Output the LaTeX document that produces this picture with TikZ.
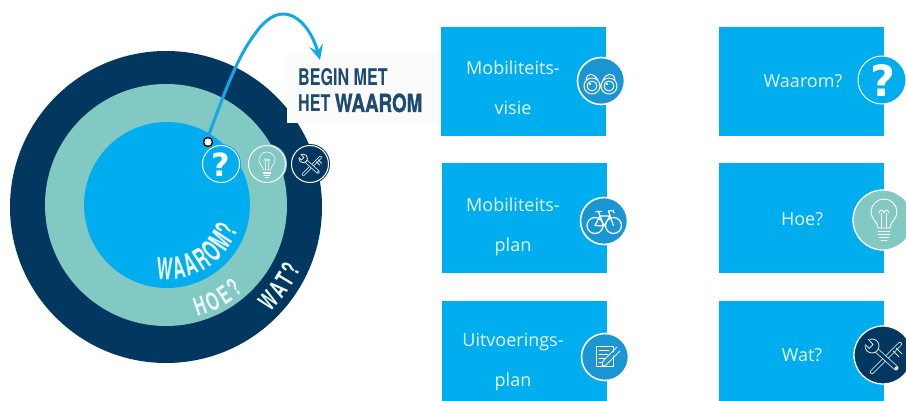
\documentclass[tikz,border=0pt]{standalone}
\usepackage{fontspec}
\setmainfont{Open Sans}
\newfontfamily\condfont[FakeStretch=0.56]{TeX Gyre Heros}
\newfontfamily\condmid[FakeStretch=0.64]{TeX Gyre Heros}
\newfontfamily\headfont[FakeStretch=0.70]{TeX Gyre Heros}
\newfontfamily\headbold[FakeStretch=0.75,FakeBold=1]{TeX Gyre Heros}
\newfontfamily\qfont{DejaVu Sans}
\usetikzlibrary{decorations.text,arrows.meta}
\definecolor{boxblue}{HTML}{00ADEF}
\definecolor{navy}{HTML}{02375F}
\definecolor{teal2}{HTML}{83C9C3}
\definecolor{iconblue}{HTML}{1A96D2}
\definecolor{arrowblue}{HTML}{12A8E8}
\definecolor{soft}{HTML}{EAF7FC}
\definecolor{headnavy}{HTML}{1C4A72}
\tikzset{
  x=1pt,y=-1pt,
  card/.style={fill=boxblue,minimum width=165pt,minimum height=109pt,inner sep=0pt,outer sep=0pt},
  cardtext/.style={text=soft,align=center,inner sep=0pt,font=\fontsize{18}{40}\selectfont},
  disc/.style={circle,fill=#1,draw=white,line width=1.6pt,inner sep=0pt,outer sep=0pt},
  ringed/.style={circle,fill=#1,inner sep=0pt,outer sep=0pt},
  ico/.style={draw=white,line cap=round,line join=round},
  qmark/.style={text=white,inner sep=0pt,font=\qfont\bfseries\fontsize{#1}{#1}\selectfont},
  arctext/.style n args={3}{decorate,decoration={text effects along path,text={#1},
    text effects/.cd,text along path,
    characters={text=soft,font=#2},
    character widths={font=#2,inner xsep=#3}}},
  pics/bulbicon/.style={code={
    \draw[ico,pic actions] (-6,8) .. controls (-6,2) and (-13,-1) .. (-13,-8) .. controls (-13,-15) and (-7,-21) .. (0,-21) .. controls (7,-21) and (13,-15) .. (13,-8) .. controls (13,-1) and (6,2) .. (6,8) -- cycle;
    \draw[ico,pic actions] (-2.5,8) -- (-2.5,-7) (2.5,8) -- (2.5,-7) (-5,-7) .. controls (-4,-11) and (-1,-11) .. (0,-7) .. controls (1,-11) and (4,-11) .. (5,-7);
    \draw[ico,pic actions] (-6,11) -- (6,11) (-6,14) -- (6,14) (-5,17) -- (5,17) (-3,20) -- (3,20);
  }},
  pics/toolsicon/.style={code={
    \draw[draw=white,double=navy,double distance=2.6*\pgfkeysvalueof{/tikz/iconk},line width=.7pt,line cap=round] (-11,17) -- (17,-11);
    \draw[draw=white,double=navy,double distance=3.4*\pgfkeysvalueof{/tikz/iconk},line width=.7pt,line cap=round] (-9,-7) -- (13,13);
    \fill[navy,draw=white,line width=.7pt] (-11,-9) circle (7);
    \fill[navy] (-15,-17) -- (-9,-11) -- (-14,-6) -- (-21,-12) -- cycle;
    \draw[white,line width=.7pt] (-15,-16) -- (-10,-10.5) -- (-14,-6.5) -- (-18,-10.5);
    \draw[white,line width=.7pt] (10,-4) -- (16,2) (13,-7) -- (19,-1);
    \fill[white] (13,13) circle (1.6);
  }},
  iconk/.initial=1
}
\begin{document}
\begin{tikzpicture}
\clip (0,0) rectangle (906,401);
\fill[white] (0,0) rectangle (906,401);

% target rings
\node[ringed=navy,minimum size=312pt] (outer) at (166,207) {};
\node[ringed=teal2,minimum size=242pt] (middle) at (166,205) {};
\node[ringed=boxblue,minimum size=166pt] (inner) at (167,205) {};

% ring labels
\path[y=1pt,arctext={WAAROM?}{\condfont\bfseries\fontsize{30}{30}\selectfont}{1.2pt}]
  ({167+75*cos(-99)},{-205+75*sin(-99)}) arc[start angle=-99,end angle=-5,radius=75pt];
\path[y=1pt,arctext={HOE?}{\condmid\bfseries\fontsize{25}{25}\selectfont}{1.4pt}]
  ({166+116*cos(-75)},{-205+116*sin(-75)}) arc[start angle=-75,end angle=-25,radius=116pt];
\path[y=1pt,arctext={WAT?}{\condmid\bfseries\fontsize{25}{25}\selectfont}{1.3pt}]
  ({166+148*cos(-46)},{-207+148*sin(-46)}) arc[start angle=-46,end angle=-5,radius=148pt];

% heading
\node[fill=black!1.5,minimum width=153pt,minimum height=70pt,inner sep=0pt] (headbg) at (363.5,88) {};
\node[anchor=base west,inner sep=0pt,text=headnavy,font=\headfont\bfseries\fontsize{23}{23}\selectfont] (head1) at (298,86) {BEGIN MET};
\node[anchor=base west,inner sep=0pt,text=headnavy,font=\headfont\bfseries\fontsize{23}{23}\selectfont] (head2) at (298,112) {HET {\headbold\bfseries\fontsize{25}{25}\selectfont WAAROM}};

% small discs
\node[ringed=boxblue,minimum size=40pt] (smallq0) at (221,164) {};
\node[ringed=teal2,minimum size=40pt] (smallb0) at (267,164) {};
\node[ringed=navy,minimum size=40pt] (smallt0) at (310,164) {};
\node[disc=boxblue,minimum size=37pt,line width=1pt] (smallq) at (221,164) {};
\node[disc=teal2,minimum size=37pt,line width=1pt] (smallb) at (267,164) {};
\node[disc=navy,minimum size=37pt,line width=1pt] (smallt) at (310,164) {};
\node[qmark=32] (smallqm) at (221,165) {?};
\pic[scale=.62,line width=.55pt] at (267,165) {bulbicon};
\begin{scope}[iconk=.62]
\pic[scale=.62] at (310,164) {toolsicon};
\end{scope}

% arrow
\node[circle,fill=white,draw=black,line width=1.3pt,minimum size=9pt,inner sep=0pt] (dot) at (208,142) {};
\coordinate (tip) at (320,60);
\draw[arrowblue,line width=3pt,-{Stealth[length=15pt,width=14pt,inset=6pt]}]
  (dot.north) .. controls (222,100) and (235,62) .. (252,38)
  .. controls (262,23) and (272,14) .. (283,14)
  .. controls (300,14) and (313,34) .. (tip);

% cards, left column
\node[card] (c1) at (523.5,81.5) {};
\node[card] (c2) at (524.5,218) {};
\node[card,minimum height=101pt] (c3) at (524.5,351.5) {};
\node[cardtext] (t1) at (513,87.5) {Mobiliteits-\\visie};
\node[cardtext] (t2) at (513,226.5) {Mobiliteits-\\plan};
\node[cardtext] (t3) at (513,362.5) {Uitvoerings-\\plan};

% cards, right column
\node[card] (c4) at (801.5,81.5) {};
\node[card] (c5) at (801.5,218) {};
\node[card,minimum height=101pt] (c6) at (801.5,351.5) {};
\node[cardtext] (t4) at (803,81) {Waarom?};
\node[cardtext] (t5) at (802,219) {Hoe?};
\node[cardtext] (t6) at (802,355) {Wat?};

% left icons
\node[disc=iconblue,minimum size=47pt] (i1) at (601,81) {};
\node[disc=iconblue,minimum size=47pt] (i2) at (604,221) {};
\node[disc=iconblue,minimum size=47pt] (i3) at (605,357) {};

% binoculars
\begin{scope}[shift={(601,81)},ico,line width=1pt]
  \draw (-9,5) circle (8) (-9,5) circle (5) (8,5) circle (8) (8,5) circle (5);
  \fill[white] (-11,3) circle (1.3) (6,3) circle (1.3);
  \draw (-15,-1) .. controls (-14,-9) and (-7,-8) .. (-3,-1);
  \draw (2,-1) .. controls (5,-8) and (13,-9) .. (14,-1);
\end{scope}

% bicycle
\begin{scope}[shift={(604,221)},ico,line width=1.2pt]
  \draw (-9,4.5) circle (8) (9.5,4.5) circle (8);
  \draw (-9,4.5) -- (-4,-5) -- (6,-5) -- (9.5,4.5) (-9,4.5) -- (0,5) -- (6,-5) (0,5) -- (-4,-5);
  \draw (-4,-5) -- (-5.5,-9) (-8,-9.5) -- (-2.5,-9.5);
  \draw (6,-5) -- (4.5,-10) -- (9,-10.5) -- (10,-8);
\end{scope}

% plan
\begin{scope}[shift={(605,357)},ico,line width=.9pt]
  \draw (-9,-11) rectangle (8,9);
  \draw (-6,-7) -- (4,-7) (-6,-3) -- (3,-3) (-6,1) -- (0,1) (-6,5) -- (-2,5);
  \draw[line width=2.6pt,iconblue] (-1,6) -- (14,-8);
  \draw[line width=.8pt] (-2,4) -- (12,-10) (1,8) -- (15,-6) (-2,4) -- (-3,9) -- (1,8);
\end{scope}

% right icons
\node[disc=boxblue,minimum size=48pt,line width=1pt] (i4) at (882,80) {};
\node[qmark=43] (q4) at (883,81) {?};
\node[disc=teal2,minimum size=60pt,line width=1.3pt] (i5) at (883,220) {};
\pic[scale=1,line width=.9pt] at (884,220) {bulbicon};
\node[disc=navy,minimum size=58pt,line width=1.3pt] (i6) at (883,355) {};
\pic at (883,355) {toolsicon};
\end{tikzpicture}
\end{document}
